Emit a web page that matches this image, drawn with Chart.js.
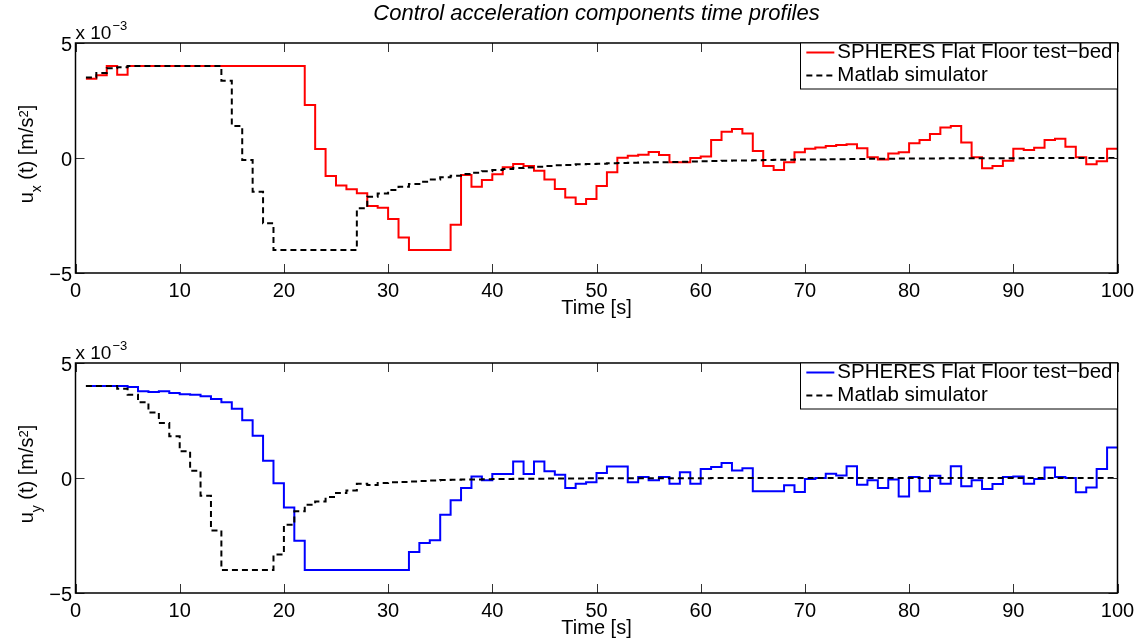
<!DOCTYPE html>
<html>
<head>
<meta charset="utf-8">
<title>Control acceleration components time profiles</title>
<script src="https://cdn.jsdelivr.net/npm/chart.js@4.4.1/dist/chart.umd.min.js"></script>
<style>
  html, body { margin: 0; padding: 0; background: #fff; }
  body { width: 1145px; height: 642px; position: relative; overflow: hidden; }
  canvas { position: absolute; left: 0; }
  #uxChart { top: 0; }
  #uyChart { top: 320px; }
</style>
</head>
<body>
<canvas id="uxChart" width="1145" height="321"></canvas>
<canvas id="uyChart" width="1145" height="321"></canvas>
<script>
// Instants d'échantillonnage [s]
const time = [
    1, 2, 3, 4, 5, 6, 7, 8, 9, 10,
    11, 12, 13, 14, 15, 16, 17, 18, 19, 20,
    21, 22, 23, 24, 25, 26, 27, 28, 29, 30,
    31, 32, 33, 34, 35, 36, 37, 38, 39, 40,
    41, 42, 43, 44, 45, 46, 47, 48, 49, 50,
    51, 52, 53, 54, 55, 56, 57, 58, 59, 60,
    61, 62, 63, 64, 65, 66, 67, 68, 69, 70,
    71, 72, 73, 74, 75, 76, 77, 78, 79, 80,
    81, 82, 83, 84, 85, 86, 87, 88, 89, 90,
    91, 92, 93, 94, 95, 96, 97, 98, 99, 100
];

// Commandes u_x et u_y, en 10^-3 m/s^2
const uxTestbed = [
    3.45, 3.6, 4.0, 3.62, 4.0, 4.0, 4.0, 4.0, 4.0, 4.0,
    4.0, 4.0, 4.0, 4.0, 4.0, 4.0, 4.0, 4.0, 4.0, 4.0,
    4.0, 2.3, 0.39, -0.78, -1.2, -1.36, -1.53, -2.09, -2.16, -2.65,
    -3.46, -4.0, -4.0, -4.0, -4.0, -2.9, -0.74, -1.25, -0.96, -0.71,
    -0.4, -0.26, -0.35, -0.55, -0.93, -1.35, -1.72, -2.0, -1.78, -1.22,
    -0.62, 0.01, 0.1, 0.14, 0.26, 0.13, -0.19, -0.19, 0.0, 0.06,
    0.78, 1.14, 1.26, 1.07, 0.3, -0.35, -0.52, -0.19, 0.25, 0.4,
    0.46, 0.52, 0.56, 0.6, 0.42, 0.03, -0.06, 0.2, 0.25, 0.64,
    0.78, 1.04, 1.33, 1.39, 0.67, 0.03, -0.45, -0.35, -0.12, 0.4,
    0.35, 0.45, 0.78, 0.84, 0.49, 0.03, -0.27, -0.14, 0.4, 0.4
];
const uxSimulator = [
    3.5, 3.7, 3.9, 3.95, 4.0, 4.0, 4.0, 4.0, 4.0, 4.0,
    4.0, 4.0, 4.0, 3.36, 1.39, -0.09, -1.47, -2.84, -4.0, -4.0,
    -4.0, -4.0, -4.0, -4.0, -4.0, -4.0, -2.19, -1.68, -1.54, -1.39,
    -1.25, -1.13, -1.03, -0.93, -0.84, -0.77, -0.70, -0.64, -0.58, -0.52,
    -0.48, -0.43, -0.41, -0.38, -0.35, -0.32, -0.30, -0.27, -0.26, -0.25,
    -0.23, -0.22, -0.21, -0.20, -0.19, -0.18, -0.17, -0.16, -0.15, -0.14,
    -0.13, -0.12, -0.11, -0.11, -0.10, -0.09, -0.08, -0.08, -0.07, -0.06,
    -0.06, -0.05, -0.05, -0.04, -0.04, -0.03, -0.03, -0.03, -0.02, -0.02,
    -0.02, -0.02, -0.01, -0.01, -0.01, -0.01, -0.01, -0.01, -0.01, -0.01,
    0, 0, 0, 0, 0, 0, 0, 0, 0, 0
];
const uyTestbed = [
    4.0, 4.0, 4.0, 4.0, 3.96, 3.77, 3.74, 3.77, 3.70, 3.64,
    3.62, 3.55, 3.43, 3.29, 3.01, 2.51, 1.84, 0.75, -0.23, -1.28,
    -2.73, -4.0, -4.0, -4.0, -4.0, -4.0, -4.0, -4.0, -4.0, -4.0,
    -4.0, -3.22, -2.83, -2.71, -1.6, -0.97, -0.43, 0.06, -0.1, 0.17,
    0.17, 0.72, 0.17, 0.72, 0.29, 0.14, -0.43, -0.25, -0.19, 0.22,
    0.5, 0.5, -0.19, 0.04, -0.1, 0.04, -0.25, 0.25, -0.25, 0.39,
    0.48, 0.65, 0.33, 0.42, -0.58, -0.58, -0.58, -0.32, -0.61, -0.04,
    0, 0.19, 0.11, 0.51, -0.29, -0.1, -0.43, -0.07, -0.8, 0.04,
    -0.58, 0.1, -0.25, 0.51, -0.36, -0.1, -0.48, -0.26, 0.04, 0.07,
    -0.25, -0.04, 0.46, 0.04, 0, -0.62, -0.41, 0.39, 1.33, 1.33
];
const uySimulator = [
    4.0, 4.0, 4.0, 3.88, 3.62, 3.29, 2.85, 2.39, 1.81, 1.16,
    0.32, -0.77, -2.28, -4.0, -4.0, -4.0, -4.0, -4.0, -3.33, -2.03,
    -1.45, -1.16, -1.02, -0.83, -0.65, -0.54, -0.25, -0.30, -0.22, -0.19,
    -0.17, -0.15, -0.13, -0.11, -0.09, -0.08, -0.07, -0.06, -0.05, -0.04,
    -0.04, -0.03, -0.03, -0.03, -0.02, -0.02, -0.02, -0.02, -0.01, -0.01,
    -0.01, -0.01, -0.01, -0.01, -0.01, -0.01, -0.01, -0.01, -0.01, -0.01,
    0, 0, 0, 0, 0, 0, 0, 0, 0, 0,
    0, 0, 0, 0, 0, 0, 0, 0, 0, 0,
    0, 0, 0, 0, 0, 0, 0, 0, 0, 0,
    0, 0, 0, 0, 0, 0, 0, 0, 0, 0
];

// Graduations
const timeTicks = [0, 10, 20, 30, 40, 50, 60, 70, 80, 90, 100];
const valueTicks = [-5, 0, 5];

const seriesNames = ['SPHERES Flat Floor test\u2212bed', 'Matlab simulator'];

const FONT = '"Liberation Sans", Arial, Helvetica, sans-serif';
const TICK_LEN = 9;

Chart.defaults.font.family = FONT;
Chart.defaults.color = '#000';

// Tracé "à la Matlab" : cadre, graduations intérieures, exposant, label y, légende
const matlabAxes = {
    id: 'matlabAxes',
    afterDraw(chart, args, opts) {
        const ctx = chart.ctx;
        const area = chart.chartArea;
        const xScale = chart.scales.x;
        const yScale = chart.scales.y;

        ctx.save();

        // Graduations intérieures sur les quatre côtés
        ctx.strokeStyle = '#333';
        ctx.lineWidth = 1;
        ctx.beginPath();
        timeTicks.forEach(v => {
            const px = Math.round(xScale.getPixelForValue(v)) + 0.5;
            ctx.moveTo(px, area.bottom);
            ctx.lineTo(px, area.bottom - TICK_LEN);
            ctx.moveTo(px, area.top);
            ctx.lineTo(px, area.top + TICK_LEN);
        });
        valueTicks.forEach(v => {
            const py = Math.round(yScale.getPixelForValue(v)) + 0.5;
            ctx.moveTo(area.left, py);
            ctx.lineTo(area.left + TICK_LEN, py);
            ctx.moveTo(area.right, py);
            ctx.lineTo(area.right - TICK_LEN, py);
        });
        ctx.stroke();

        // Cadre
        ctx.strokeStyle = '#000';
        ctx.lineWidth = 1.5;
        ctx.strokeRect(area.left, area.top, area.right - area.left, area.bottom - area.top);

        // Facteur d'échelle "x 10^-3"
        ctx.fillStyle = '#000';
        ctx.textAlign = 'left';
        ctx.textBaseline = 'alphabetic';
        ctx.font = '19px ' + FONT;
        ctx.fillText('x 10', area.left, area.top - 4.5);
        const expX = area.left + ctx.measureText('x 10').width + 1;
        ctx.font = '13px ' + FONT;
        ctx.fillText('\u22123', expX, area.top - 13.5);

        // Label de l'axe y avec indice et exposant
        drawYLabel(ctx, area, opts.sub);

        // Titre
        if (opts.title) {
            ctx.font = 'italic 22px ' + FONT;
            ctx.textAlign = 'center';
            ctx.textBaseline = 'middle';
            ctx.fillText(opts.title, (area.left + area.right) / 2, 13.5);
        }

        drawLegend(chart, ctx, area);

        ctx.restore();
    }
};

function drawYLabel(ctx, area, sub) {
    const parts = [
        { text: 'u', size: 20, dy: 0 },
        { text: sub, size: 14, dy: 8 },
        { text: ' (t) [m/s', size: 20, dy: 0 },
        { text: '2', size: 13, dy: -5 },
        { text: ']', size: 20, dy: 0 }
    ];
    let total = 0;
    parts.forEach(p => {
        ctx.font = p.size + 'px ' + FONT;
        p.w = ctx.measureText(p.text).width;
        total += p.w;
    });
    ctx.save();
    ctx.translate(32.5, (area.top + area.bottom) / 2 - 4);
    ctx.rotate(-Math.PI / 2);
    ctx.textAlign = 'left';
    ctx.textBaseline = 'alphabetic';
    let x = -total / 2;
    parts.forEach(p => {
        ctx.font = p.size + 'px ' + FONT;
        ctx.fillText(p.text, x, p.dy);
        x += p.w;
    });
    ctx.restore();
}

function drawLegend(chart, ctx, area) {
    const datasets = chart.data.datasets;
    ctx.font = '20.5px ' + FONT;
    let textW = 0;
    datasets.forEach(ds => { textW = Math.max(textW, ctx.measureText(ds.label).width); });

    const boxH = 46;
    const boxL = area.right - textW - 42;

    ctx.fillStyle = '#fff';
    ctx.fillRect(boxL, area.top, area.right - boxL, boxH);
    ctx.strokeStyle = '#000';
    ctx.lineWidth = 1;
    ctx.strokeRect(Math.round(boxL) + 0.5, area.top, area.right - Math.round(boxL) - 0.5, boxH);

    datasets.forEach((ds, i) => {
        const y = area.top + 9.5 + i * 23;
        ctx.beginPath();
        ctx.strokeStyle = ds.borderColor;
        ctx.lineWidth = ds.borderWidth;
        ctx.setLineDash(ds.borderDash || []);
        ctx.moveTo(boxL + 6, y);
        ctx.lineTo(boxL + 34, y);
        ctx.stroke();
        ctx.setLineDash([]);
        ctx.fillStyle = '#000';
        ctx.textAlign = 'left';
        ctx.textBaseline = 'middle';
        ctx.fillText(ds.label, boxL + 37, y);
    });
}

function toPoints(values) {
    return time.map((t, i) => ({ x: t, y: values[i] }));
}

function makeChart(canvasId, testbed, simulator, color, sub, title) {
    return new Chart(document.getElementById(canvasId), {
        type: 'line',
        data: {
            datasets: [
                {
                    label: seriesNames[0],
                    data: toPoints(testbed),
                    borderColor: color,
                    borderWidth: 2,
                    stepped: 'before',
                    pointRadius: 0,
                    fill: false,
                    order: 1
                },
                {
                    label: seriesNames[1],
                    data: toPoints(simulator),
                    borderColor: '#000',
                    borderWidth: 2,
                    borderDash: [6, 4],
                    stepped: 'before',
                    pointRadius: 0,
                    fill: false,
                    order: 0
                }
            ]
        },
        options: {
            responsive: false,
            animation: false,
            events: [],
            layout: { padding: { top: 43, right: 27.5, bottom: 0, left: 0 } },
            plugins: {
                legend: { display: false },
                tooltip: { enabled: false },
                matlabAxes: { sub: sub, title: title }
            },
            scales: {
                x: {
                    type: 'linear',
                    min: 0,
                    max: 100,
                    afterBuildTicks: scale => { scale.ticks = timeTicks.map(v => ({ value: v })); },
                    afterFit: scale => { scale.height = 48; },
                    grid: { display: false, drawTicks: false },
                    border: { display: false },
                    ticks: { font: { size: 20 }, color: '#000', padding: 6, maxRotation: 0, autoSkip: false },
                    title: {
                        display: true,
                        text: 'Time [s]',
                        font: { size: 20 },
                        color: '#000',
                        padding: { top: 0, bottom: 1 }
                    }
                },
                y: {
                    type: 'linear',
                    min: -5,
                    max: 5,
                    afterBuildTicks: scale => { scale.ticks = valueTicks.map(v => ({ value: v })); },
                    afterFit: scale => { scale.width = 75.5; },
                    grid: { display: false, drawTicks: false },
                    border: { display: false },
                    ticks: {
                        font: { size: 20 },
                        color: '#000',
                        padding: 3.5,
                        labelOffset: 2,
                        callback: v => (v < 0 ? '\u2212' + (-v) : String(v))
                    }
                }
            }
        },
        plugins: [matlabAxes]
    });
}

makeChart('uxChart', uxTestbed, uxSimulator, '#ff0000', 'x', 'Control acceleration components time profiles');
makeChart('uyChart', uyTestbed, uySimulator, '#0000ff', 'y', null);
</script>
</body>
</html>
